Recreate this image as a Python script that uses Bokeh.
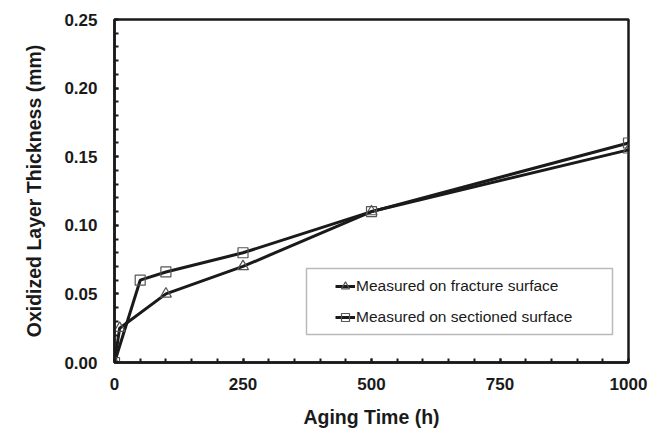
from bokeh.plotting import figure
from bokeh.models import Range1d, Legend, LegendItem, BoxAnnotation, SingleIntervalTicker, PrintfTickFormatter
from bokeh.embed import file_html
from bokeh.resources import INLINE

# Data
frac_time = [0, 10, 100, 250, 500, 1000]
frac_thick = [0.0, 0.025, 0.05, 0.07, 0.11, 0.155]
sect_time = [0, 50, 100, 250, 500, 1000]
sect_thick = [0.0, 0.06, 0.066, 0.08, 0.11, 0.16]
labels = ["Measured on fracture surface", "Measured on sectioned surface"]

FONT = "Liberation Sans"

p = figure(width=659, height=437, output_backend="svg", toolbar_location=None,
           x_range=Range1d(0, 1000), y_range=Range1d(0, 0.25),
           min_border_left=114, min_border_right=31, min_border_top=19, min_border_bottom=75)
p.grid.visible = False
p.outline_line_color = "#1a1a1a"
p.outline_line_width = 2.5
p.background_fill_color = "white"
p.border_fill_color = "white"

for ax in (p.xaxis[0], p.yaxis[0]):
    ax.axis_line_width = 2.5
    ax.axis_line_color = "#1a1a1a"
    ax.major_tick_in = 4
    ax.major_tick_out = 0
    ax.minor_tick_in = 4
    ax.minor_tick_out = 0
    ax.major_tick_line_width = 2
    ax.minor_tick_line_width = 2
    ax.major_tick_line_color = "#1a1a1a"
    ax.minor_tick_line_color = "#1a1a1a"
    ax.major_label_text_font = FONT
    ax.major_label_text_font_style = "bold"
    ax.major_label_text_font_size = "17px"
    ax.major_label_text_color = "#1a1a1a"
    ax.axis_label_text_font = FONT
    ax.axis_label_text_font_style = "bold"
    ax.axis_label_text_font_size = "19.5px"
    ax.axis_label_text_color = "#1a1a1a"

p.xaxis.ticker = SingleIntervalTicker(interval=250, num_minor_ticks=5)
p.yaxis.ticker = SingleIntervalTicker(interval=0.05, num_minor_ticks=5)
p.yaxis.formatter = PrintfTickFormatter(format="%.2f")
p.xaxis.major_label_standoff = 15
p.yaxis.major_label_standoff = 17
p.xaxis.axis_label = "Aging Time (h)"
p.yaxis.axis_label = "Oxidized Layer Thickness (mm)"
p.xaxis.axis_label_standoff = 13
p.yaxis.axis_label_standoff = 16

l1 = p.line(frac_time, frac_thick, line_color="#1a1a1a", line_width=3)
l2 = p.line(sect_time, sect_thick, line_color="#1a1a1a", line_width=3)
m1 = p.scatter(frac_time, frac_thick, marker="triangle", size=11, fill_color="white",
               fill_alpha=0, line_color="#555555", line_width=1.2)
m2 = p.scatter(sect_time, sect_thick, marker="square", size=10, fill_color="white",
               fill_alpha=0, line_color="#555555", line_width=1.2)

box = BoxAnnotation(left=192, right=498, top=94, bottom=28,
                    left_units="screen", right_units="screen",
                    top_units="screen", bottom_units="screen",
                    fill_color="white", fill_alpha=1.0,
                    line_color="#1a1a1a", line_width=1.5)
p.add_layout(box)

legend = Legend(items=[LegendItem(label=labels[0], renderers=[l1, m1]),
                       LegendItem(label=labels[1], renderers=[l2, m2])],
                location=(221, 35), padding=0, margin=0, spacing=11,
                label_height=20, glyph_height=20, glyph_width=20, label_standoff=1,
                border_line_alpha=0, background_fill_alpha=0,
                label_text_font=FONT, label_text_font_size="15.5px",
                label_text_color="#1a1a1a")
p.add_layout(legend)

open("out.html", "w").write(file_html(p, INLINE))
